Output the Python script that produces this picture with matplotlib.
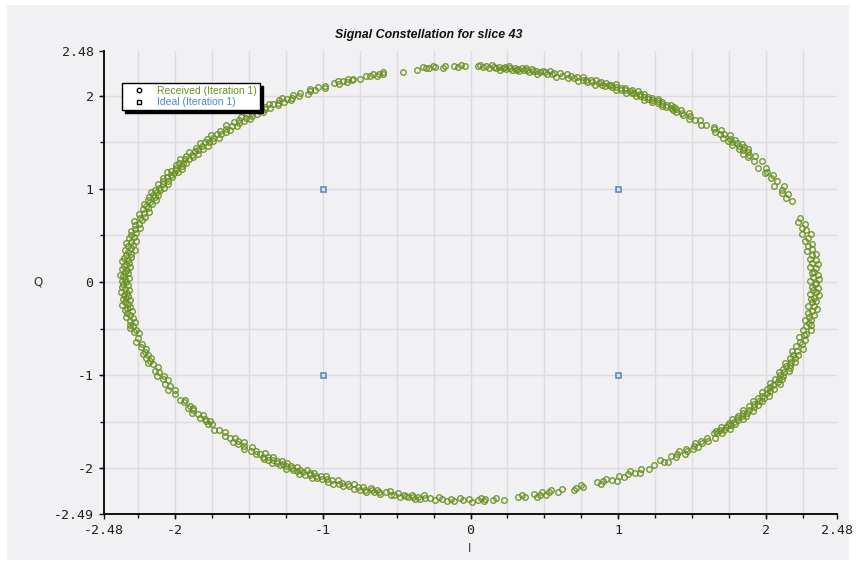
import numpy as np
import matplotlib
matplotlib.use("Agg")
import matplotlib.pyplot as plt
from matplotlib.lines import Line2D
from matplotlib.patches import Rectangle

# Received symbols for slice 43: phase (degrees) and magnitude, grouped by arc
right_phase = [
    -44.2, -43.9, -43.5, -43.3, -42.8, -42.5, -42.0, -41.9, -41.4, -41.0,
    -40.9, -40.3, -40.0, -39.8, -39.3, -39.1, -38.6, -38.5, -38.0, -37.6,
    -37.4, -36.8, -36.6, -36.0, -35.8, -35.2, -34.9, -34.3, -34.1, -33.8,
    -33.2, -32.9, -32.6, -32.0, -31.8, -31.2, -30.9, -30.6, -30.0, -29.8,
    -29.2, -29.0, -28.4, -28.2, -27.6, -27.4, -26.8, -26.5, -26.2, -25.6,
    -25.4, -24.8, -24.6, -24.0, -23.8, -23.2, -23.0, -22.4, -22.2, -21.6,
    -21.3, -20.6, -20.4, -19.7, -19.5, -18.9, -18.5, -17.7, -17.3, -16.5,
    -16.1, -15.3, -14.9, -14.1, -13.7, -12.9, -12.5, -11.7, -11.3, -10.8,
    -10.2, -9.9, -9.3, -8.7, -8.2, -7.6, -7.1, -6.5, -6.2, -5.4,
    -5.1, -4.5, -4.1, -3.4, -3.2, -2.5, -2.1, -1.6, -1.2, -0.5,
    -0.3, 0.4, 0.7, 1.3, 1.8, 2.5, 2.7, 3.6, 4.0, 4.6,
    5.1, 5.9, 6.2, 7.1, 7.3, 8.2, 8.8, 9.7, 10.1, 11.1,
    11.7, 12.6, 13.0, 13.8, 14.5, 15.5, 16.1, 17.1, 21.7, 22.9,
    23.8, 24.3, 25.1, 26.0, 26.6, 27.6, 28.7, 29.4, 30.3, 30.6,
    31.4, 32.2, 33.3, 34.2, 35.1, 35.6, 35.9, 36.5, 36.8, 37.3,
    37.5, 38.1, 38.2, 38.8, 38.9, 39.6, 39.7, 40.3, 40.4, 41.0,
    41.2, 41.9, 42.1, 42.8, 43.2, 43.9, 44.3, 45.0, 45.3,
]
right_mag = [
    2.33, 2.31, 2.35, 2.32, 2.34, 2.30, 2.33, 2.36, 2.32, 2.34,
    2.31, 2.35, 2.33, 2.30, 2.34, 2.32, 2.36, 2.31, 2.33, 2.35,
    2.32, 2.34, 2.30, 2.33, 2.36, 2.31, 2.34, 2.32, 2.35, 2.30,
    2.33, 2.35, 2.31, 2.34, 2.32, 2.36, 2.30, 2.33, 2.34, 2.31,
    2.35, 2.32, 2.33, 2.30, 2.36, 2.34, 2.31, 2.33, 2.35, 2.32,
    2.34, 2.30, 2.33, 2.36, 2.31, 2.35, 2.32, 2.34, 2.30, 2.33,
    2.36, 2.31, 2.34, 2.32, 2.35, 2.30, 2.33, 2.36, 2.31, 2.34,
    2.32, 2.35, 2.30, 2.33, 2.34, 2.31, 2.36, 2.32, 2.35, 2.33,
    2.30, 2.34, 2.32, 2.35, 2.31, 2.33, 2.36, 2.30, 2.34, 2.32,
    2.35, 2.31, 2.33, 2.36, 2.30, 2.34, 2.32, 2.35, 2.31, 2.33,
    2.34, 2.30, 2.36, 2.32, 2.35, 2.31, 2.33, 2.34, 2.30, 2.36,
    2.32, 2.35, 2.31, 2.33, 2.36, 2.30, 2.34, 2.32, 2.35, 2.31,
    2.33, 2.36, 2.30, 2.34, 2.32, 2.35, 2.31, 2.33, 2.34, 2.32,
    2.35, 2.31, 2.33, 2.36, 2.30, 2.34, 2.32, 2.35, 2.31, 2.33,
    2.34, 2.30, 2.36, 2.32, 2.35, 2.31, 2.33, 2.34, 2.30, 2.36,
    2.32, 2.35, 2.31, 2.33, 2.36, 2.30, 2.34, 2.32, 2.35, 2.31,
    2.33, 2.36, 2.30, 2.34, 2.32, 2.35, 2.31, 2.33, 2.34,
]

top_phase = [
    46.7, 47.3, 48.2, 48.8, 49.7, 50.3, 50.9, 51.4, 51.8, 52.3,
    52.7, 53.1, 53.5, 53.8, 54.1, 54.5, 54.8, 55.1, 55.5, 55.8,
    56.2, 56.5, 56.8, 57.2, 57.5, 57.9, 58.2, 58.5, 58.8, 59.1,
    59.4, 59.8, 60.1, 60.4, 60.7, 61.0, 61.3, 61.7, 62.0, 62.3,
    62.6, 63.0, 63.3, 63.7, 64.0, 64.4, 64.7, 65.1, 65.4, 65.8,
    66.1, 66.5, 66.8, 67.2, 67.6, 67.9, 68.3, 68.7, 69.0, 69.4,
    69.8, 70.2, 70.6, 71.0, 71.4, 71.9, 72.3, 72.8, 73.3, 73.8,
    74.3, 74.8, 75.3, 75.8, 76.2, 76.6, 77.0, 77.4, 77.8, 78.2,
    78.6, 79.0, 79.4, 79.7, 80.0, 80.4, 80.7, 81.0, 81.3, 81.7,
    82.0, 82.3, 82.6, 83.0, 83.3, 83.6, 84.0, 84.3, 84.6, 85.0,
    85.3, 85.7, 86.1, 86.5, 86.9, 87.4, 87.9, 88.4, 88.8, 90.9,
    91.6, 92.1, 92.8, 94.2, 94.6, 95.9, 96.2, 96.9, 97.4, 97.9,
    99.1, 101.4, 104.7, 104.8, 105.5, 105.9, 106.5, 107.2, 107.7, 108.9,
    110.1, 110.4, 110.9, 111.3, 111.8, 112.5, 112.7, 113.4, 115.2, 115.4,
    116.2, 117.1, 117.6, 118.0, 118.6, 119.6, 120.2, 120.9, 121.4, 121.9,
    122.3, 122.8, 123.2, 123.6, 124.1, 124.5, 125.0, 125.5, 126.0, 126.4,
    126.8, 127.2, 127.6, 128.0, 128.4, 128.8, 129.2, 129.6, 130.0, 130.4,
    130.8, 131.2, 131.6, 132.0, 132.5, 133.0, 133.4, 133.9, 134.4, 134.9,
]
top_mag = [
    2.32, 2.30, 2.33, 2.31, 2.29, 2.32, 2.34, 2.30, 2.31, 2.33,
    2.29, 2.32, 2.30, 2.33, 2.31, 2.34, 2.30, 2.32, 2.29, 2.31,
    2.33, 2.30, 2.32, 2.34, 2.29, 2.31, 2.33, 2.30, 2.32, 2.28,
    2.31, 2.33, 2.30, 2.32, 2.29, 2.34, 2.31, 2.30, 2.33, 2.32,
    2.29, 2.31, 2.33, 2.30, 2.32, 2.28, 2.31, 2.34, 2.30, 2.32,
    2.31, 2.29, 2.33, 2.30, 2.32, 2.31, 2.28, 2.33, 2.30, 2.32,
    2.29, 2.31, 2.30, 2.33, 2.28, 2.32, 2.30, 2.31, 2.29, 2.33,
    2.30, 2.32, 2.28, 2.31, 2.30, 2.33, 2.29, 2.31, 2.32, 2.30,
    2.28, 2.31, 2.30, 2.32, 2.29, 2.31, 2.33, 2.30, 2.32, 2.29,
    2.31, 2.30, 2.32, 2.29, 2.31, 2.33, 2.30, 2.32, 2.31, 2.29,
    2.32, 2.30, 2.31, 2.33, 2.30, 2.32, 2.31, 2.33, 2.32, 2.32,
    2.33, 2.31, 2.32, 2.32, 2.31, 2.32, 2.33, 2.31, 2.32, 2.33,
    2.31, 2.30, 2.33, 2.31, 2.32, 2.30, 2.33, 2.31, 2.32, 2.30,
    2.32, 2.31, 2.33, 2.30, 2.32, 2.34, 2.31, 2.33, 2.32, 2.30,
    2.33, 2.31, 2.34, 2.32, 2.30, 2.33, 2.31, 2.34, 2.32, 2.30,
    2.33, 2.35, 2.31, 2.34, 2.32, 2.30, 2.33, 2.35, 2.31, 2.34,
    2.32, 2.35, 2.30, 2.33, 2.36, 2.31, 2.34, 2.32, 2.35, 2.30,
    2.33, 2.36, 2.31, 2.34, 2.32, 2.35, 2.30, 2.33, 2.36, 2.31,
]

left_phase = [
    135.3, 135.8, 136.2, 136.7, 137.1, 137.6, 138.0, 138.5, 138.9, 139.3,
    139.7, 140.1, 140.5, 140.9, 141.3, 141.7, 142.1, 142.5, 142.9, 143.3,
    143.7, 144.1, 144.5, 144.9, 145.3, 145.6, 146.0, 146.3, 146.7, 147.0,
    147.4, 147.7, 148.1, 148.4, 148.8, 149.1, 149.5, 149.8, 150.2, 150.6,
    150.9, 151.3, 151.7, 152.0, 152.4, 152.8, 153.2, 153.6, 154.0, 154.4,
    154.8, 155.1, 155.5, 155.8, 156.2, 156.5, 156.9, 157.3, 157.6, 158.0,
    158.4, 158.8, 159.2, 159.6, 160.0, 160.4, 160.9, 161.4, 161.9, 162.4,
    162.9, 163.4, 163.9, 164.4, 164.9, 165.4, 165.9, 166.5, 167.0, 167.6,
    168.1, 168.5, 168.9, 169.3, 169.7, 170.1, 170.5, 170.9, 171.3, 171.7,
    172.1, 172.5, 172.9, 173.3, 173.7, 174.1, 174.5, 174.9, 175.3, 175.7,
    176.1, 176.5, 176.9, 177.3, 177.7, 178.1, 178.5, 178.9, 179.3, 179.7,
    180.1, 180.5, 180.9, 181.3, 181.7, 182.1, 182.5, 182.9, 183.3, 183.7,
    184.1, 184.5, 184.9, 185.3, 185.7, 186.1, 186.5, 186.9, 187.3, 187.7,
    188.2, 188.7, 189.2, 189.7, 190.2, 190.7, 191.2, 191.7, 192.2, 192.7,
    193.2, 193.6, 195.0, 195.8, 196.6, 197.4, 198.1, 198.8, 199.3, 199.8,
    200.3, 200.8, 201.3, 201.8, 202.3, 203.3, 204.0, 204.6, 205.3, 206.0,
    206.6, 207.3, 208.0, 208.7, 209.4, 210.2, 211.0, 212.8, 213.2, 213.6,
    215.0, 215.3, 215.7, 216.2, 216.6, 217.5, 218.2, 218.6, 219.2, 219.9,
    220.2, 220.6, 221.1, 222.4, 223.1, 224.0, 224.8,
]
left_mag = [
    2.33, 2.31, 2.35, 2.32, 2.34, 2.30, 2.36, 2.33, 2.31, 2.35,
    2.32, 2.34, 2.30, 2.36, 2.33, 2.31, 2.35, 2.32, 2.34, 2.30,
    2.36, 2.33, 2.31, 2.35, 2.32, 2.34, 2.37, 2.31, 2.33, 2.35,
    2.32, 2.36, 2.30, 2.34, 2.33, 2.31, 2.35, 2.32, 2.37, 2.33,
    2.31, 2.34, 2.36, 2.32, 2.35, 2.30, 2.33, 2.36, 2.31, 2.34,
    2.32, 2.35, 2.33, 2.37, 2.31, 2.34, 2.32, 2.36, 2.30, 2.35,
    2.33, 2.31, 2.36, 2.34, 2.32, 2.35, 2.30, 2.33, 2.36, 2.31,
    2.34, 2.32, 2.37, 2.33, 2.35, 2.31, 2.34, 2.36, 2.32, 2.35,
    2.33, 2.36, 2.31, 2.34, 2.37, 2.32, 2.35, 2.33, 2.30, 2.36,
    2.34, 2.32, 2.35, 2.31, 2.36, 2.33, 2.37, 2.32, 2.34, 2.35,
    2.31, 2.36, 2.33, 2.34, 2.32, 2.37, 2.35, 2.31, 2.34, 2.36,
    2.33, 2.35, 2.32, 2.36, 2.34, 2.31, 2.37, 2.33, 2.35, 2.32,
    2.34, 2.36, 2.31, 2.35, 2.33, 2.37, 2.32, 2.34, 2.36, 2.31,
    2.35, 2.33, 2.36, 2.32, 2.34, 2.31, 2.35, 2.33, 2.36, 2.32,
    2.34, 2.31, 2.33, 2.35, 2.32, 2.34, 2.31, 2.33, 2.35, 2.32,
    2.34, 2.31, 2.33, 2.35, 2.32, 2.30, 2.34, 2.32, 2.35, 2.31,
    2.33, 2.30, 2.34, 2.32, 2.35, 2.31, 2.33, 2.34, 2.31, 2.33,
    2.32, 2.34, 2.31, 2.33, 2.35, 2.32, 2.30, 2.34, 2.32, 2.33,
    2.31, 2.34, 2.32, 2.35, 2.33, 2.31, 2.34,
]

bottom_phase = [
    225.8, 226.3, 226.8, 227.3, 227.8, 228.3, 228.9, 229.5, 230.1, 230.7,
    231.3, 231.9, 232.4, 232.9, 233.2, 233.6, 233.9, 234.3, 234.6, 235.0,
    235.3, 235.7, 236.0, 236.4, 236.7, 237.1, 237.4, 237.8, 238.1, 238.5,
    238.8, 239.2, 239.5, 239.9, 240.2, 240.6, 240.9, 241.3, 241.6, 242.0,
    242.3, 242.7, 243.0, 243.4, 243.7, 244.1, 244.5, 244.9, 245.3, 245.8,
    246.2, 246.7, 247.1, 247.6, 248.0, 248.5, 249.0, 249.5, 250.0, 250.5,
    251.0, 251.4, 251.8, 252.2, 252.6, 253.0, 253.4, 253.8, 254.2, 254.6,
    255.0, 255.8, 256.3, 256.8, 257.3, 257.8, 258.4, 258.9, 259.3, 259.7,
    260.1, 260.5, 260.9, 261.3, 261.7, 262.1, 262.5, 263.3, 264.2, 264.7,
    265.3, 266.2, 266.7, 267.2, 268.3, 268.8, 269.7, 270.3, 271.2, 271.7,
    272.2, 272.4, 273.7, 274.2, 275.5, 278.0, 278.6, 279.1, 280.6, 281.1,
    281.6, 282.1, 282.6, 283.2, 283.7, 284.7, 285.5, 287.5, 288.0, 289.0,
    289.1, 291.7, 292.2, 292.7, 293.5, 294.3, 294.9, 295.7, 296.3, 297.3,
    297.9, 298.5, 299.2, 299.9, 301.0, 302.4, 303.8, 304.2, 304.6, 305.9,
    306.5, 307.1, 307.9, 308.1, 309.0, 309.2, 310.0, 310.7, 311.0, 311.4,
    312.3, 312.5, 313.3, 313.7, 314.7, 315.6,
]
bottom_mag = [
    2.33, 2.31, 2.35, 2.32, 2.34, 2.30, 2.33, 2.36, 2.31, 2.34,
    2.32, 2.35, 2.33, 2.30, 2.34, 2.36, 2.32, 2.35, 2.31, 2.33,
    2.36, 2.32, 2.34, 2.31, 2.35, 2.33, 2.30, 2.34, 2.36, 2.32,
    2.33, 2.35, 2.31, 2.34, 2.32, 2.36, 2.33, 2.30, 2.35, 2.32,
    2.34, 2.31, 2.36, 2.33, 2.35, 2.32, 2.34, 2.30, 2.33, 2.35,
    2.32, 2.36, 2.31, 2.34, 2.33, 2.35, 2.32, 2.34, 2.31, 2.36,
    2.33, 2.35, 2.32, 2.34, 2.36, 2.31, 2.33, 2.35, 2.32, 2.34,
    2.36, 2.33, 2.31, 2.35, 2.34, 2.32, 2.36, 2.33, 2.34, 2.35,
    2.32, 2.34, 2.36, 2.33, 2.35, 2.31, 2.34, 2.33, 2.35, 2.32,
    2.34, 2.36, 2.33, 2.35, 2.32, 2.34, 2.33, 2.36, 2.34, 2.32,
    2.35, 2.33, 2.34, 2.32, 2.35, 2.33, 2.31, 2.34, 2.32, 2.35,
    2.33, 2.31, 2.34, 2.32, 2.30, 2.33, 2.31, 2.34, 2.32, 2.30,
    2.33, 2.31, 2.34, 2.32, 2.30, 2.33, 2.35, 2.31, 2.34, 2.32,
    2.30, 2.33, 2.35, 2.31, 2.34, 2.32, 2.30, 2.33, 2.35, 2.31,
    2.34, 2.32, 2.30, 2.35, 2.33, 2.31, 2.34, 2.32, 2.35, 2.30,
    2.33, 2.31, 2.34, 2.32, 2.35, 2.31,
]

# Ideal QPSK reference points
ideal_i = [-1.0, 1.0, -1.0, 1.0]
ideal_q = [1.0, 1.0, -1.0, -1.0]

x_ticks = [-2.48, -2, -1, 0, 1, 2, 2.48]
x_tick_labels = ["-2.48", "-2", "-1", "0", "1", "2", "2.48"]
y_ticks = [-2.49, -2, -1, 0, 1, 2, 2.48]
y_tick_labels = ["-2.49", "-2", "-1", "0", "1", "2", "2.48"]

title_text = "Signal Constellation for slice 43"
received_label = "Received (Iteration 1)"
ideal_label = "Ideal (Iteration 1)"

# ---- styling ----
W, H = 856, 565
panel = "#f1f0f3"
grid_col = "#dddbe0"
green = "#68901f"
blue = "#4a88c6"

phase = np.deg2rad(np.concatenate([right_phase, top_phase, left_phase, bottom_phase]))
mag = np.concatenate([right_mag, top_mag, left_mag, bottom_mag])
rx_i = mag * np.cos(phase)
rx_q = mag * np.sin(phase)

fig = plt.figure(figsize=(W / 100, H / 100), dpi=100)
fig.patch.set_facecolor("white")
fig.add_artist(Rectangle((7 / W, 5 / H), (849 - 7) / W, (560 - 5) / H,
                         transform=fig.transFigure, facecolor=panel,
                         edgecolor="none", zorder=-10))

left, right, top, bottom = 104, 837, 51, 514
ax = fig.add_axes([left / W, (H - bottom) / H, (right - left) / W, (bottom - top) / H])
ax.set_facecolor(panel)
ax.set_xlim(-2.48, 2.48)
ax.set_ylim(-2.49, 2.48)

for s in ("top", "right"):
    ax.spines[s].set_visible(False)
for s in ("left", "bottom"):
    ax.spines[s].set_linewidth(1.4)
    ax.spines[s].set_color("#111111")

ax.set_xticks(x_ticks)
ax.set_xticklabels(x_tick_labels)
ax.set_yticks(y_ticks)
ax.set_yticklabels(y_tick_labels)
ax.set_xticks(np.arange(-2.25, 2.26, 0.25), minor=True)
ax.set_yticks(np.arange(-2.0, 2.01, 0.5), minor=True)
ax.xaxis.remove_overlapping_locs = False
ax.yaxis.remove_overlapping_locs = False

ax.tick_params(which="both", direction="out", color="#111111", width=1.0)
ax.tick_params(which="major", length=3.5, pad=4, labelsize=9.5, labelcolor="#222222")
ax.tick_params(which="minor", length=3.0)
for lab in ax.get_xticklabels() + ax.get_yticklabels():
    lab.set_family("DejaVu Sans Mono")

ax.grid(False, which="major")
ax.grid(True, which="minor", color=grid_col, linewidth=1.0)
ax.set_axisbelow(True)

ax.plot(rx_i, rx_q, linestyle="none", marker="o", markersize=4.0,
        markerfacecolor="none", markeredgecolor=green, markeredgewidth=1.0,
        alpha=0.9, zorder=3)
ax.plot(ideal_i, ideal_q, linestyle="none", marker="s", markersize=3.6,
        markerfacecolor="none", markeredgecolor=blue, markeredgewidth=1.1,
        zorder=4)

fig.text(429 / W, 1 - 35 / H, title_text, ha="center", va="center",
         fontsize=8.9, fontweight="bold", fontstyle="italic",
         family="Liberation Sans", color="#111111")
fig.text(38 / W, 1 - 282 / H, "Q", ha="center", va="center",
         fontsize=8.5, family="DejaVu Sans", color="#333333")
fig.text(470 / W, 1 - 548 / H, "I", ha="center", va="center",
         fontsize=8.5, family="DejaVu Sans", color="#333333")

handles = [
    Line2D([], [], linestyle="none", marker="o", markersize=3.2,
           markerfacecolor="none", markeredgecolor="black", markeredgewidth=1.0),
    Line2D([], [], linestyle="none", marker="s", markersize=3.0,
           markerfacecolor="none", markeredgecolor="black", markeredgewidth=1.0),
]
leg = ax.legend(handles, [received_label, ideal_label], loc="upper left",
                bbox_to_anchor=(122 / W, 1 - 83 / H), bbox_transform=fig.transFigure,
                borderaxespad=0, frameon=True, fancybox=False,
                shadow={"color": "black", "alpha": 1.0},
                prop={"family": "Liberation Sans", "size": 7.5},
                borderpad=0.3, handlelength=2.6, handletextpad=0.5,
                labelspacing=0.1)
leg.get_frame().set_edgecolor("black")
leg.get_frame().set_linewidth(1.0)
leg.get_frame().set_facecolor("white")
leg.get_texts()[0].set_color(green)
leg.get_texts()[1].set_color(blue)
leg.set_zorder(10)

fig.savefig("out.png", dpi=100, facecolor=fig.get_facecolor())
